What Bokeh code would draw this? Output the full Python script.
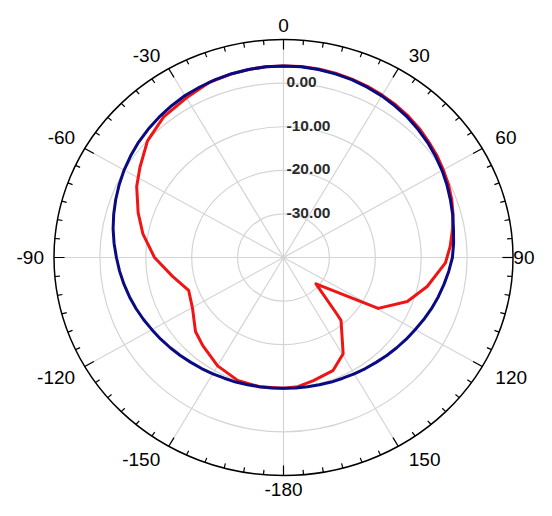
import numpy as np
from bokeh.plotting import figure
from bokeh.models import ColumnDataSource, Range1d
from bokeh.embed import file_html
from bokeh.resources import INLINE
from bokeh.core.properties import value

# ---------------- data (angle in degrees, clockwise from top; gain in dB) ----------------
blue_angle = [-180, -175, -170, -165, -160, -155, -150, -145, -140, -135, -130, -125, -120,
              -115, -110, -105, -100, -95, -90, -85, -80, -75, -70, -65, -60, -55, -50, -45,
              -40, -35, -30, -25, -20, -15, -10, -5, 0, 5, 10, 15, 20, 25, 30, 35, 40, 45, 50,
              55, 60, 65, 70, 75, 80, 85, 90, 95, 100, 105, 110, 115, 120, 125, 130, 135, 140,
              145, 150, 155, 160, 165, 170, 175, 180]
blue_db = [-10.0, -9.95, -9.9, -9.8, -9.6, -9.45, -9.2, -8.9, -8.6, -8.2, -7.8, -7.35, -6.9,
           -6.35, -5.8, -5.25, -4.7, -4.15, -3.6, -2.95, -2.3, -1.7, -1.1, -0.5, 0.1, 0.65,
           1.2, 1.65, 2.1, 2.5, 2.9, 3.15, 3.4, 3.65, 3.8, 3.9, 3.95, 3.9, 3.8, 3.6, 3.4, 3.1,
           2.8, 2.4, 2.0, 1.5, 1.0, 0.45, -0.1, -0.7, -1.3, -1.85, -2.4, -2.8, -3.2, -3.85,
           -4.5, -5.1, -5.7, -6.3, -6.9, -7.35, -7.8, -8.2, -8.6, -8.9, -9.2, -9.45, -9.6,
           -9.8, -9.9, -9.95, -10.0]

red_angle = [-180, -170, -160.5, -150, -139, -131.5, -120.5, -110, -100, -90, -80, -72, -63,
             -56.5, -48, -39, -30, -22, -15, -10, -5, 0, 5, 10, 15, 20, 25, 30, 35, 40, 45, 50,
             55, 60, 65, 70, 75, 80, 86, 92, 102, 110.5, 119.5, 130.5, 138, 139, 149.5, 157.5,
             167, 174, 180]
red_db = [-10.0, -9.9, -10.1, -11.3, -13.2, -14.4, -17.0, -18.0, -15.4, -11.9, -8.9, -6.7, -4.1,
          -2.5, -0.1, 1.5, 2.3, 3.3, 3.6, 3.8, 3.9, 3.95, 3.95, 3.9, 3.75, 3.55, 3.3, 3.0, 2.7,
          2.3, 1.85, 1.3, 0.8, 0.2, -0.35, -1.0, -1.75, -2.6, -3.6, -4.7, -8.0, -11.2, -16.3,
          -30.7, -22.8, -20.9, -14.4, -11.9, -11.0, -10.2, -10.0]

ring_db = [-30, -20, -10, 0]
ring_labels = ["-30.00", "-20.00", "-10.00", "0.00"]
angle_ticks = [0, 30, 60, 90, 120, 150, 180, -150, -120, -90, -60, -30]
angle_labels = ["0", "30", "60", "90", "120", "150", "-180", "-150", "-120", "-90", "-60", "-30"]
r_min, r_max = -40, 10

# ---------------- helpers ----------------
R = r_max - r_min


def to_xy(theta_deg, db):
    t = np.radians(np.asarray(theta_deg, dtype=float))
    r = np.asarray(db, dtype=float) - r_min
    return r * np.sin(t), r * np.cos(t)


W, H = 536, 500
cx_px, cy_px = 283, 257          # centre of the polar plot inside the frame
rx_px, ry_px = 229.5, 218.0      # outer circle radii in px
sx, sy = rx_px / R, ry_px / R    # px per unit horizontally / vertically

p = figure(width=W, height=H, output_backend="svg", toolbar_location=None,
           x_range=Range1d(-cx_px / sx, (W - cx_px) / sx),
           y_range=Range1d(-(H - cy_px) / sy, cy_px / sy),
           min_border=0)
p.axis.visible = False
p.grid.visible = False
p.outline_line_color = None
p.background_fill_color = "white"
p.border_fill_color = "white"

# grid rings
ring_r = [2 * (d - r_min) for d in ring_db]
p.ellipse(x=0, y=0, width=ring_r, height=ring_r, fill_color=None,
          line_color="#d4d4d4", line_width=1.2)

# spokes every 30 degrees
spoke_t = np.radians(np.arange(0, 360, 30))
p.segment(x0=0, y0=0, x1=R * np.sin(spoke_t), y1=R * np.cos(spoke_t),
          line_color="#d4d4d4", line_width=1.2)

# curves
rx, ry = to_xy(red_angle, red_db)
p.line(rx, ry, line_color="#f01414", line_width=3, line_join="round")
bx, by = to_xy(blue_angle, blue_db)
p.line(bx, by, line_color="#0a0a82", line_width=3, line_join="round")

# outer circle and ticks
p.ellipse(x=0, y=0, width=2 * R, height=2 * R, fill_color=None,
          line_color="black", line_width=1.5)
tick_deg = np.arange(0, 360, 5)
tt = np.radians(tick_deg)
tick_len = np.where(tick_deg % 30 == 0, 2.3, 1.1)
p.segment(x0=R * np.sin(tt), y0=R * np.cos(tt),
          x1=(R - tick_len) * np.sin(tt), y1=(R - tick_len) * np.cos(tt),
          line_color="black", line_width=1.2)

# angle labels
fs = 19
at = np.radians(np.array(angle_ticks, dtype=float))
s, c = np.sin(at), np.cos(at)
align, xo, yo = [], [], []
for lbl, sv, cv in zip(angle_labels, s, c):
    w_est = fs * (0.556 * sum(ch.isdigit() for ch in lbl) + 0.333 * lbl.count("-"))
    if sv > 0.01:
        align.append("left")
        g = 7 + 7 * abs(sv)
        edge = cx_px + rx_px * sv
        g = min(g, W - 2 - w_est - edge)
        xo.append(g)
    elif sv < -0.01:
        align.append("right")
        xo.append(-(7 + 3 * abs(sv)))
    else:
        align.append("center")
        xo.append(0)
    yo.append(-(8 + 6 * abs(cv)) * np.sign(cv) if abs(cv) > 0.01 else 0)
lab = ColumnDataSource(dict(x=R * s, y=R * c, t=angle_labels, a=align, xo=xo, yo=yo))
p.text(x="x", y="y", text="t", source=lab, text_align="a", text_baseline="middle",
       x_offset="xo", y_offset="yo", text_font=value("Liberation Sans"),
       text_font_size=f"{fs}px", text_color="black")

# ring labels
rl = ColumnDataSource(dict(x=[0] * len(ring_db), y=[d - r_min for d in ring_db], t=ring_labels))
p.text(x="x", y="y", text="t", source=rl, text_align="left", text_baseline="alphabetic",
       x_offset=3, y_offset=-1, text_font=value("Liberation Sans"), text_font_style="bold",
       text_font_size="15.5px", text_color="#2a2a2a")

open("out.html", "w").write(file_html(p, INLINE))
